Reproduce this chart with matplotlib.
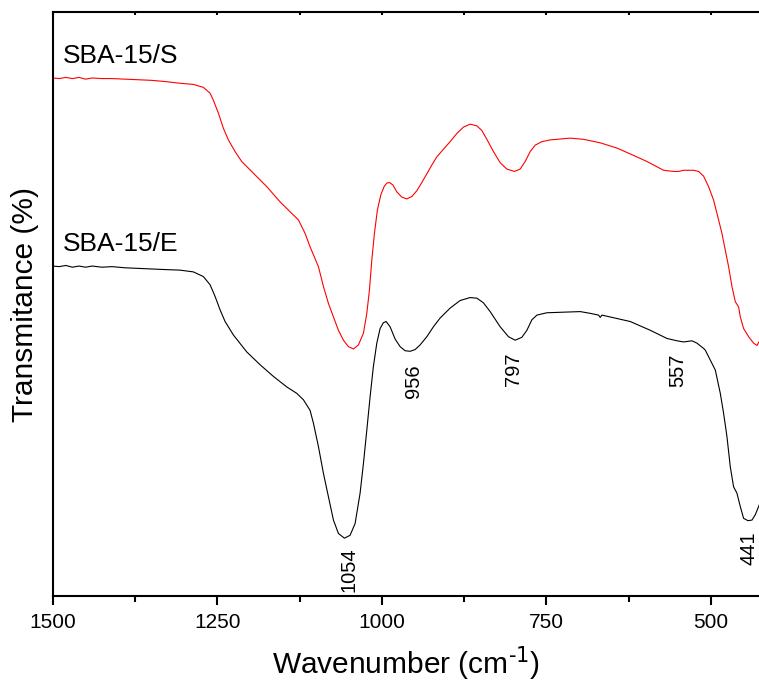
import matplotlib
matplotlib.use("Agg")
import matplotlib.pyplot as plt
from matplotlib.ticker import MultipleLocator

plt.rcParams['font.family'] = ['Liberation Sans', 'DejaVu Sans']

# SBA-15/S (red) spectrum: wavenumber (cm-1) and transmittance (arb. %)
wn_s = [1500, 1490, 1480, 1470, 1460, 1450, 1440, 1425, 1410, 1390, 1370, 1350, 1330,
        1306.5, 1286.3, 1271.1, 1260.9, 1255.9, 1248.3, 1240.7, 1233.1, 1222.9, 1212.8,
        1195.1, 1174.8, 1154.6, 1139.4, 1126.7, 1116.6, 1109,
        1096.3, 1088.7, 1081.1, 1073.5, 1065.9, 1058.3, 1050.7, 1043.1, 1035.5, 1027.9,
        1022.8, 1018.8, 1015.2, 1011.2, 1006.7, 1001.5, 996.5, 992.4, 988.4, 983.3,
        977.2, 969.6, 962.0, 954.4, 946.8, 939.2, 931.6, 924.0, 916.4, 906.4, 896.2,
        886.0, 875.9, 865.8, 855.6, 848.0, 840.4, 830.4, 820.2, 810.0, 798.5, 789.8,
        782.2, 774.6, 767.0, 756.8, 744.2, 734.0, 713.8, 693.6, 668.2, 642.8, 622.6,
        597.2, 572.0, 556.8, 549.2, 541.6, 526.4, 518.8, 511.2, 503.6, 496.0, 488.4,
        483.3, 478.2, 473.2, 468.1, 463.0, 458.0, 455.4, 450.4, 442.8, 435.2, 430.1, 425.5]
t_s = [88.7, 88.6, 88.8, 88.6, 88.8, 88.5, 88.7, 88.6, 88.6, 88.5, 88.4, 88.3, 88.1,
       87.8, 87.6, 87.1, 86.1, 84.9, 82.7, 80.1, 78.1, 76.1, 74.4,
       72.4, 70.1, 67.5, 65.8, 64.4, 62.1, 59.8,
       56.4, 53.0, 50.1, 47.8, 45.5, 43.8, 42.7, 42.3, 43.0, 45.0,
       48.4, 52.4, 57.5, 62.1, 66.1, 68.7, 70.1, 70.7, 70.8, 70.4,
       69.2, 68.3, 68.0, 68.4, 69.4, 70.8, 72.3, 73.8, 75.2, 76.5, 77.8,
       79.2, 80.3, 80.8, 80.5, 79.7, 78.2, 76.1, 74.2, 73.1, 72.7, 73.1,
       74.4, 76.1, 77.2, 77.8, 78.1, 78.2, 78.4, 78.2, 77.6, 76.7, 75.7,
       74.4, 72.9, 72.7, 72.7, 72.9, 72.9, 72.7, 71.9, 70.1, 67.8, 64.4,
       62.1, 59.2, 56.4, 53.0, 50.4, 49.5, 47.8, 45.8, 44.4, 43.3, 42.9, 43.8]

# SBA-15/E (black) spectrum
wn_e = [1500, 1490, 1480, 1470, 1460, 1450, 1440, 1425, 1410, 1390, 1370, 1350, 1330,
        1306.5, 1286.3, 1271.1, 1260.9, 1253.3, 1245.7, 1238.1, 1225.5, 1205.2, 1184.9,
        1164.7, 1144.4, 1129.2, 1119.1, 1109.0, 1103.9, 1096.3, 1088.7, 1081.1, 1073.5,
        1065.9, 1056.8, 1048.2, 1040.6, 1033.0, 1027.9, 1022.8, 1017.8, 1012.8, 1007.6,
        1002.6, 997.6, 993.4, 987.4, 979.8, 972.2, 964.6, 957.0, 949.4, 941.8, 931.6,
        921.6, 911.4, 896.2, 881.0, 865.8, 855.6, 845.6, 835.4, 820.2, 807.6, 797.4,
        787.2, 779.6, 772.0, 764.4, 749.2, 724.0, 698.6, 683.4, 670.8, 668.2, 665.6,
        622.6, 592.2, 566.8, 551.6, 541.6, 528.9, 521.3, 511.2, 508.6, 501.0, 493.4,
        485.8, 480.8, 475.7, 470.6, 465.6, 460.5, 455.4, 450.4, 443.7, 437.7, 432.7, 426.6]
t_e = [56.5, 56.4, 56.6, 56.3, 56.5, 56.3, 56.5, 56.3, 56.4, 56.2, 56.1, 56.0, 55.9,
       55.8, 55.5, 54.7, 53.3, 51.3, 49.0, 47.0, 44.7, 41.8, 39.6,
       37.6, 35.8, 34.7, 33.6, 31.8, 29.6, 25.6, 21.0, 17.0, 13.0,
       10.7, 9.9, 10.4, 12.4, 17.6, 22.7, 28.4, 34.1, 39.3, 43.3,
       45.8, 46.8, 47.0, 46.1, 44.0, 42.7, 42.0, 41.9, 42.2, 43.0, 44.4,
       46.1, 47.6, 49.3, 50.6, 51.1, 51.0, 50.2, 48.7, 46.1, 44.4, 43.8,
       44.3, 45.5, 47.3, 48.1, 48.5, 48.6, 48.7, 48.4, 48.1, 47.7, 48.1,
       47.0, 45.5, 44.1, 43.7, 43.5, 43.7, 43.3, 42.4, 42.1, 40.4, 38.7,
       34.7, 31.3, 27.3, 22.1, 18.7, 17.6, 15.3, 13.3, 12.9, 13.0, 13.9, 15.6]

# Peak annotations (label, wavenumber position, transmittance position)
peak_labels = ["1054", "956", "797", "557", "441"]
peak_wn = [1050, 952, 800, 551, 442]
peak_t = [4.5, 36.8, 38.9, 38.7, 8.2]

series_names = ["SBA-15/S", "SBA-15/E"]
name_t = [92.4, 60.3]

xticks = [1500, 1250, 1000, 750, 500]

fig = plt.figure(figsize=(7.59, 6.82), dpi=100)
ax = fig.add_axes([0.0694, 0.1261, 0.9306, 0.8563])

ax.plot(wn_s, t_s, color='#ff0000', lw=0.8)
ax.plot(wn_e, t_e, color='black', lw=0.8)

ax.set_xlim(1500, 427)
ax.set_ylim(0, 100)

for lab, x, y in zip(peak_labels, peak_wn, peak_t):
    ax.text(x, y, lab, rotation=90, ha='center', va='center', fontsize=14.5)

for name, y in zip(series_names, name_t):
    ax.text(1484, y, name, ha='left', va='center', fontsize=19)

ax.set_xticks(xticks)
ax.xaxis.set_minor_locator(MultipleLocator(125))
ax.set_yticks([])
ax.tick_params(axis='x', which='major', direction='out', length=6.5, width=1.5,
               labelsize=15, pad=6, top=True)
ax.tick_params(axis='x', which='minor', direction='out', length=4, width=1.5, top=True)

for side in ['left', 'bottom', 'top']:
    ax.spines[side].set_linewidth(1.5)
ax.spines['right'].set_visible(False)

# top ticks tiny and inward
for t in ax.xaxis.get_major_ticks() + ax.xaxis.get_minor_ticks():
    t.tick2line.set_markersize(2)
    t.tick2line.set_marker(3)

ax.set_xlabel(r'Wavenumber (cm$^{\text{-1}}$)', fontsize=21.5, labelpad=9)
ax.set_ylabel('Transmitance (%)', fontsize=21.5, labelpad=10)

fig.savefig('out.png', dpi=100)
